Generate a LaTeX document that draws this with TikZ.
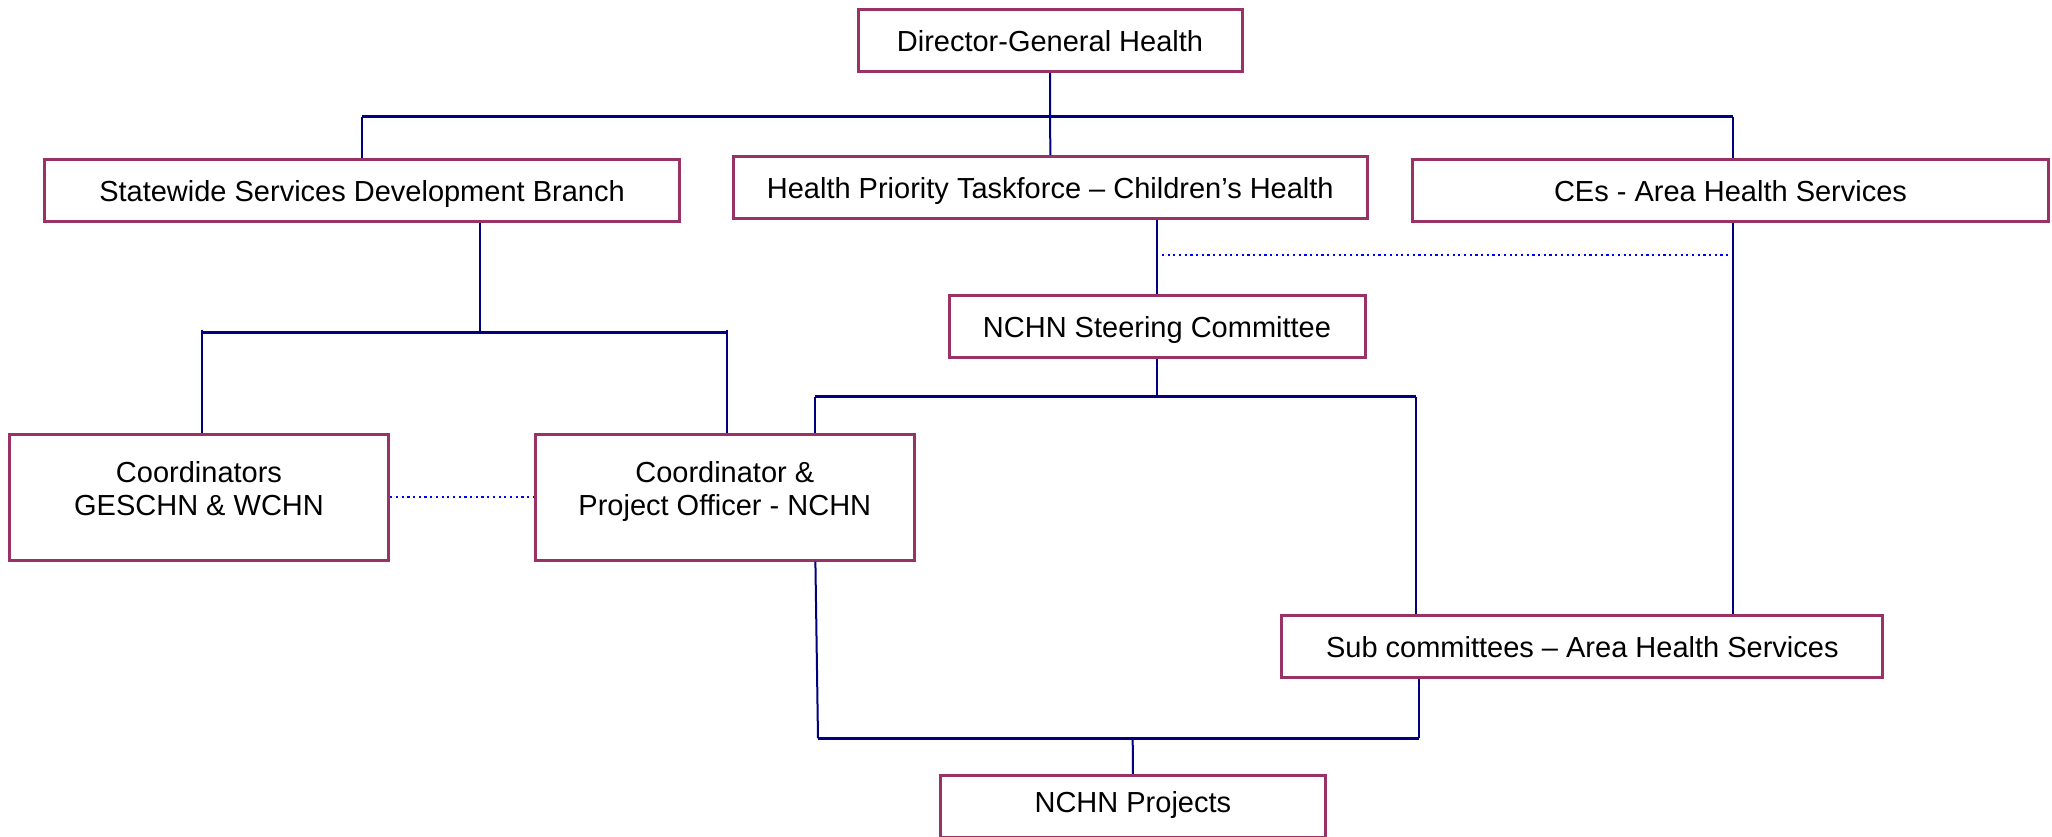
\documentclass[tikz,border=0pt]{standalone}
\usepackage{fontspec}
\setmainfont{Liberation Sans}
\usepackage{tikz}

\definecolor{boxline}{RGB}{153,51,102}
\definecolor{linknavy}{RGB}{0,0,128}
\definecolor{noteblue}{RGB}{0,0,255}

\begin{document}
\begin{tikzpicture}[
		x=0.5pt,
		y=-0.5pt,
		font=\fontsize{14.5}{16.5}\selectfont,
		box/.style={draw=boxline, line width=1.5pt, align=center, inner sep=0pt, minimum height=30.85pt, text height=11pt, text depth=0pt},
		tallbox/.style={draw=boxline, line width=1.5pt, align=center, inner sep=0pt, minimum height=62.85pt},
		link/.style={draw=linknavy, line width=1pt},
		bar/.style={draw=linknavy, line width=1.5pt},
		note/.style={draw=noteblue, line width=1.1pt, dash pattern=on 1.1pt off 1.75pt}
		]
		\useasboundingbox (0,0) rectangle (2052,836);
		
		% Boxes
		\node[box, minimum width=192pt] (dg) at (1050,40.8) {Director-General Health};
		\node[box, minimum width=317.4pt] (ssdb) at (362,190.2) {Statewide Services Development Branch};
		\node[box, minimum width=317.3pt] (hpt) at (1050.3,187.5) {Health Priority Taskforce – Children’s Health};
		\node[box, minimum width=317.75pt] (ces) at (1730.5,190.2) {CEs - Area Health Services};
		\node[box, minimum width=208pt] (steer) at (1157,326.3) {NCHN Steering Committee};
		\node[tallbox, minimum width=189.75pt] (coord) at (199,497.2) {Coordinators\\GESCHN \& WCHN\rule[-8.3pt]{0pt}{8.3pt}};
		\node[tallbox, minimum width=189.5pt] (cpo) at (724.8,497.2) {Coordinator \&\\Project Officer - NCHN\rule[-8.3pt]{0pt}{8.3pt}};
		\node[box, minimum width=300.4pt] (sub) at (1582.3,646.5) {Sub committees – Area Health Services};
		\node[box, minimum width=192.15pt, text depth=4.4pt] (proj) at (1132.9,806.2) {NCHN Projects};
		
		% Junctions
		\coordinate (topL) at (362,116.7);
		\coordinate (topR) at (1733,116.7);
		\coordinate (midC) at (480,332.7);
		\coordinate (midL) at (201.6,332.7);
		\coordinate (midR) at (727,332.7);
		\coordinate (steerL) at (815.4,396.7);
		\coordinate (steerR) at (1416,396.7);
		\coordinate (dotR) at (1733,255.3);
		\coordinate (lowL) at (818,738.3);
		\coordinate (lowR) at (1418.7,738.3);
		\coordinate (lowC) at (1132.7,738.3);
		
		% Top level
		\draw[link] (dg.south) -- (hpt.north);
		\draw[bar] (topL) -- (topR);
		\draw[link] (topL) -- (ssdb.north);
		\draw[link] (topR) -- (topR |- ces.north);
		
		% Statewide branch
		\draw[link] (ssdb.south -| midC) -- (midC);
		\draw[bar] (midL) -- (midR);
		\draw[link] ([yshift=1.5pt]midL) -- (midL |- coord.north);
		\draw[link] ([yshift=1.5pt]midR) -- (midR |- cpo.north);
		\draw[note] (coord.east) -- (cpo.west);
		
		% Taskforce and steering committee
		\draw[link] (hpt.south -| steer.north) -- (steer.north);
		\draw[note] ([xshift=2.4pt]dotR -| steer.north) -- (dotR);
		\draw[link] (steer.south) -- (steer.south |- steerL);
		\draw[bar] (steerL) -- (steerR);
		\draw[link] (steerL) -- (steerL |- cpo.north);
		\draw[link] (steerR) -- (steerR |- sub.north);
		\draw[link] (ces.south -| topR) -- (topR |- sub.north);
		
		% Projects
		\draw[link] (cpo.south -| steerL) -- (lowL);
		\draw[link] (sub.south -| lowR) -- (lowR);
		\draw[bar] (lowL) -- (lowR);
		\draw[link] (lowC) -- (proj.north);
	\end{tikzpicture}
\end{document}
